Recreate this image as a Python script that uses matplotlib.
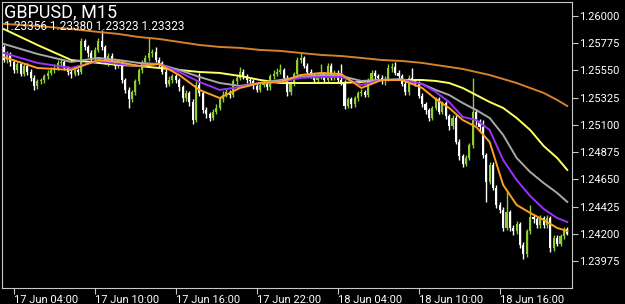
import numpy as np
import matplotlib
matplotlib.use("Agg")
import matplotlib.pyplot as plt

# ---------------- data ----------------
first_open = 1.2574
close = [1.2564, 1.2568, 1.2562, 1.2555, 1.2560, 1.2552, 1.2559, 1.2554, 1.2549, 1.2542,
         1.2546, 1.2547, 1.2550, 1.2553, 1.2555, 1.2557, 1.2561, 1.2562, 1.2557, 1.2554,
         1.2552, 1.2555, 1.2554, 1.2579, 1.2574, 1.2569, 1.2565, 1.2572, 1.2579, 1.2574,
         1.2562, 1.2567, 1.2562, 1.2559, 1.2562, 1.2547, 1.2539, 1.2531, 1.2537, 1.2546,
         1.2555, 1.2562, 1.2565, 1.2569, 1.2570, 1.2564, 1.2561, 1.2554, 1.2544, 1.2547,
         1.2550, 1.2547, 1.2541, 1.2532, 1.2536, 1.2529, 1.2514, 1.2543, 1.2536, 1.2522,
         1.2519, 1.2516, 1.2521, 1.2524, 1.2531, 1.2535, 1.2537, 1.2535, 1.2546, 1.2549,
         1.2554, 1.2550, 1.2547, 1.2546, 1.2542, 1.2539, 1.2543, 1.2545, 1.2541, 1.2550,
         1.2552, 1.2554, 1.2555, 1.2549, 1.2537, 1.2544, 1.2552, 1.2564, 1.2565, 1.2559,
         1.2554, 1.2551, 1.2547, 1.2550, 1.2552, 1.2547, 1.2559, 1.2549, 1.2553, 1.2547,
         1.2545, 1.2526, 1.2531, 1.2527, 1.2532, 1.2536, 1.2537, 1.2535, 1.2547, 1.2553,
         1.2550, 1.2549, 1.2546, 1.2548, 1.2557, 1.2558, 1.2553, 1.2550, 1.2544, 1.2537,
         1.2549, 1.2546, 1.2544, 1.2534, 1.2527, 1.2522, 1.2516, 1.2524, 1.2531, 1.2521,
         1.2528, 1.2517, 1.2509, 1.2516, 1.2496, 1.2484, 1.2478, 1.2483, 1.2493, 1.2521,
         1.2513, 1.2508, 1.2485, 1.2463, 1.2477, 1.2458, 1.2444, 1.2440, 1.2425, 1.2438,
         1.2425, 1.2422, 1.2428, 1.2411, 1.2403, 1.2422, 1.2434, 1.2432, 1.2427, 1.2433,
         1.2427, 1.2433, 1.2408, 1.2417, 1.2412, 1.2418, 1.2424, 1.2420]
high = [1.2576, 1.2571, 1.2570, 1.2564, 1.2562, 1.2562, 1.2561, 1.2561, 1.2556, 1.2551,
        1.2548, 1.2549, 1.2552, 1.2555, 1.2558, 1.2560, 1.2564, 1.2565, 1.2564, 1.2559,
        1.2556, 1.2557, 1.2557, 1.2582, 1.2581, 1.2576, 1.2572, 1.2574, 1.2582, 1.2588,
        1.2576, 1.2569, 1.2569, 1.2564, 1.2564, 1.2564, 1.2549, 1.2541, 1.2539, 1.2548,
        1.2557, 1.2564, 1.2568, 1.2582, 1.2573, 1.2574, 1.2566, 1.2563, 1.2556, 1.2550,
        1.2552, 1.2552, 1.2549, 1.2543, 1.2539, 1.2538, 1.2531, 1.2546, 1.2553, 1.2538,
        1.2525, 1.2521, 1.2523, 1.2527, 1.2533, 1.2538, 1.2540, 1.2539, 1.2548, 1.2552,
        1.2558, 1.2556, 1.2552, 1.2549, 1.2548, 1.2544, 1.2545, 1.2547, 1.2547, 1.2552,
        1.2555, 1.2557, 1.2560, 1.2557, 1.2551, 1.2546, 1.2554, 1.2566, 1.2569, 1.2567,
        1.2561, 1.2556, 1.2553, 1.2552, 1.2560, 1.2554, 1.2561, 1.2561, 1.2555, 1.2555,
        1.2560, 1.2547, 1.2533, 1.2533, 1.2534, 1.2538, 1.2540, 1.2539, 1.2549, 1.2555,
        1.2555, 1.2552, 1.2551, 1.2550, 1.2560, 1.2561, 1.2562, 1.2555, 1.2552, 1.2546,
        1.2551, 1.2557, 1.2548, 1.2546, 1.2536, 1.2529, 1.2524, 1.2526, 1.2533, 1.2533,
        1.2530, 1.2530, 1.2519, 1.2518, 1.2518, 1.2498, 1.2486, 1.2485, 1.2495, 1.2549,
        1.2523, 1.2515, 1.2514, 1.2487, 1.2479, 1.2479, 1.2460, 1.2446, 1.2442, 1.2456,
        1.2440, 1.2427, 1.2431, 1.2430, 1.2413, 1.2424, 1.2444, 1.2436, 1.2434, 1.2436,
        1.2435, 1.2436, 1.2435, 1.2419, 1.2419, 1.2420, 1.2426, 1.2426]
low = [1.2562, 1.2561, 1.2559, 1.2553, 1.2553, 1.2550, 1.2550, 1.2551, 1.2546, 1.2539,
       1.2540, 1.2544, 1.2545, 1.2548, 1.2551, 1.2553, 1.2555, 1.2559, 1.2555, 1.2551,
       1.2549, 1.2550, 1.2551, 1.2552, 1.2572, 1.2566, 1.2562, 1.2563, 1.2570, 1.2572,
       1.2560, 1.2559, 1.2560, 1.2556, 1.2557, 1.2545, 1.2536, 1.2524, 1.2529, 1.2535,
       1.2544, 1.2553, 1.2560, 1.2563, 1.2566, 1.2562, 1.2558, 1.2552, 1.2541, 1.2542,
       1.2545, 1.2545, 1.2538, 1.2529, 1.2530, 1.2526, 1.2511, 1.2512, 1.2534, 1.2520,
       1.2516, 1.2513, 1.2514, 1.2519, 1.2522, 1.2529, 1.2533, 1.2532, 1.2533, 1.2544,
       1.2547, 1.2548, 1.2545, 1.2543, 1.2540, 1.2537, 1.2537, 1.2541, 1.2539, 1.2539,
       1.2548, 1.2550, 1.2552, 1.2547, 1.2534, 1.2535, 1.2542, 1.2550, 1.2561, 1.2557,
       1.2552, 1.2549, 1.2545, 1.2545, 1.2548, 1.2545, 1.2545, 1.2547, 1.2547, 1.2545,
       1.2543, 1.2523, 1.2524, 1.2524, 1.2525, 1.2530, 1.2534, 1.2533, 1.2533, 1.2545,
       1.2548, 1.2547, 1.2544, 1.2543, 1.2546, 1.2554, 1.2551, 1.2548, 1.2542, 1.2535,
       1.2535, 1.2544, 1.2542, 1.2532, 1.2525, 1.2519, 1.2513, 1.2514, 1.2522, 1.2519,
       1.2519, 1.2515, 1.2506, 1.2507, 1.2494, 1.2481, 1.2475, 1.2476, 1.2481, 1.2491,
       1.2510, 1.2505, 1.2483, 1.2446, 1.2461, 1.2456, 1.2441, 1.2437, 1.2422, 1.2423,
       1.2422, 1.2419, 1.2420, 1.2408, 1.2399, 1.2401, 1.2420, 1.2429, 1.2425, 1.2425,
       1.2425, 1.2425, 1.2405, 1.2406, 1.2410, 1.2410, 1.2416, 1.2419]

# moving averages, sampled at bar positions
ma_idx = [0, 10, 20, 28, 34, 40, 46, 52, 58, 64, 70, 76, 82, 88, 94, 100, 106, 112, 118,
          124, 128, 132, 136, 140, 144, 148, 152, 156, 160, 164, 167]
ma_orange = [1.25661, 1.25570, 1.25554, 1.25636, 1.25620, 1.25587, 1.25603, 1.25512, 1.25389,
             1.25322, 1.25405, 1.25446, 1.25455, 1.25512, 1.25529, 1.25520, 1.25405, 1.25471,
             1.25471, 1.25405, 1.25314, 1.25240, 1.25141, 1.25083, 1.24959, 1.24604, 1.24439,
             1.24373, 1.24315, 1.24249, 1.24224]
ma_purple = [1.25694, 1.25612, 1.25570, 1.25628, 1.25603, 1.25587, 1.25603, 1.25537, 1.25455,
             1.25389, 1.25413, 1.25446, 1.25455, 1.25488, 1.25496, 1.25496, 1.25430, 1.25471,
             1.25471, 1.25438, 1.25372, 1.25289, 1.25166, 1.25141, 1.25058, 1.24810, 1.24645,
             1.24513, 1.24406, 1.24331, 1.24298]
ma_gray = [1.25769, 1.25686, 1.25620, 1.25653, 1.25636, 1.25612, 1.25603, 1.25554, 1.25496,
           1.25446, 1.25422, 1.25446, 1.25471, 1.25496, 1.25512, 1.25504, 1.25463, 1.25471,
           1.25479, 1.25438, 1.25389, 1.25347, 1.25281, 1.25223, 1.25157, 1.25017, 1.24827,
           1.24711, 1.24620, 1.24538, 1.24464]
ma_yellow = [1.25892, 1.25760, 1.25636, 1.25612, 1.25595, 1.25587, 1.25570, 1.25554, 1.25537,
             1.25529, 1.25504, 1.25471, 1.25446, 1.25446, 1.25446, 1.25446, 1.25455, 1.25471,
             1.25471, 1.25471, 1.25463, 1.25446, 1.25405, 1.25347, 1.25289, 1.25240, 1.25157,
             1.25058, 1.24926, 1.24827, 1.24728]
ma_brown = [1.25934, 1.25917, 1.25892, 1.25868, 1.25851, 1.25826, 1.25810, 1.25785, 1.25760,
            1.25744, 1.25736, 1.25719, 1.25711, 1.25694, 1.25678, 1.25669, 1.25653, 1.25636,
            1.25628, 1.25612, 1.25595, 1.25579, 1.25562, 1.25537, 1.25512, 1.25479, 1.25446,
            1.25405, 1.25364, 1.25306, 1.25256]

yticks = [1.23975, 1.24200, 1.24425, 1.24650, 1.24875, 1.25100, 1.25325, 1.25550, 1.25775, 1.26000]
xtick_idx = [3, 27, 51, 75, 99, 123, 147]
xtick_labels = ["17 Jun 04:00", "17 Jun 10:00", "17 Jun 16:00", "17 Jun 22:00",
                "18 Jun 04:00", "18 Jun 10:00", "18 Jun 16:00"]
title = "GBPUSD, M15"
subtitle = "1.23356 1.23380 1.23323 1.23323"

# ---------------- plot ----------------
plt.rcParams['font.family'] = ['Roboto', 'DejaVu Sans']
fig = plt.figure(figsize=(6.25, 3.04), dpi=100, facecolor='black')
ax = fig.add_axes([2 / 625, 16 / 304, 570 / 625, 286 / 304], facecolor='black')

c = np.array(close)
o = np.concatenate([[first_open], c[:-1]])
h = np.array(high)
l = np.array(low)
x = np.arange(len(c))
up = c >= o
bull = '#8ccf2e'
bear = '#ffffff'
cols = np.where(up, bull, bear)

ax.vlines(x, l, h, colors=cols, linewidth=1.0, zorder=2)
bot = np.minimum(o, c)
hgt = np.maximum(np.abs(c - o), 0.00002)
ax.bar(x, hgt, bottom=bot, width=0.62, color=cols, linewidth=0, zorder=3)

lw = 1.4
ax.plot(ma_idx, ma_brown, color='#d4802c', lw=lw, zorder=4)
ax.plot(ma_idx, ma_yellow, color='#ffff66', lw=lw, zorder=4)
ax.plot(ma_idx, ma_gray, color='#a8a8a8', lw=lw, zorder=4)
ax.plot(ma_idx, ma_purple, color='#9b30ff', lw=lw, zorder=5)
ax.plot(ma_idx, ma_orange, color='#ffa020', lw=lw, zorder=6)

ax.set_xlim(-0.5, 168.4)
ax.set_ylim(1.23753, 1.26115)

ax.yaxis.tick_right()
ax.set_yticks(yticks)
ax.set_yticklabels([f"{v:.5f}" for v in yticks])
ax.set_xticks(xtick_idx)
ax.set_xticklabels(xtick_labels, ha='left')
ax.tick_params(axis='y', colors='#c8c8c8', labelcolor='white', labelsize=8, length=4, width=0.8, pad=1)
ax.tick_params(axis='x', colors='#c8c8c8', labelcolor='white', labelsize=8, length=4, width=0.8, pad=1)
for lab in ax.get_xticklabels():
    lab.set_horizontalalignment('left')
for s in ax.spines.values():
    s.set_color('#c8c8c8')
    s.set_linewidth(0.8)

fig.text(4 / 625, 1 - 3 / 304, title, color='white', fontsize=13, ha='left', va='top')
fig.text(4 / 625, 1 - 20 / 304, subtitle, color='white', fontsize=8.5, ha='left', va='top')

fig.savefig('out.png', dpi=100, facecolor='black')
